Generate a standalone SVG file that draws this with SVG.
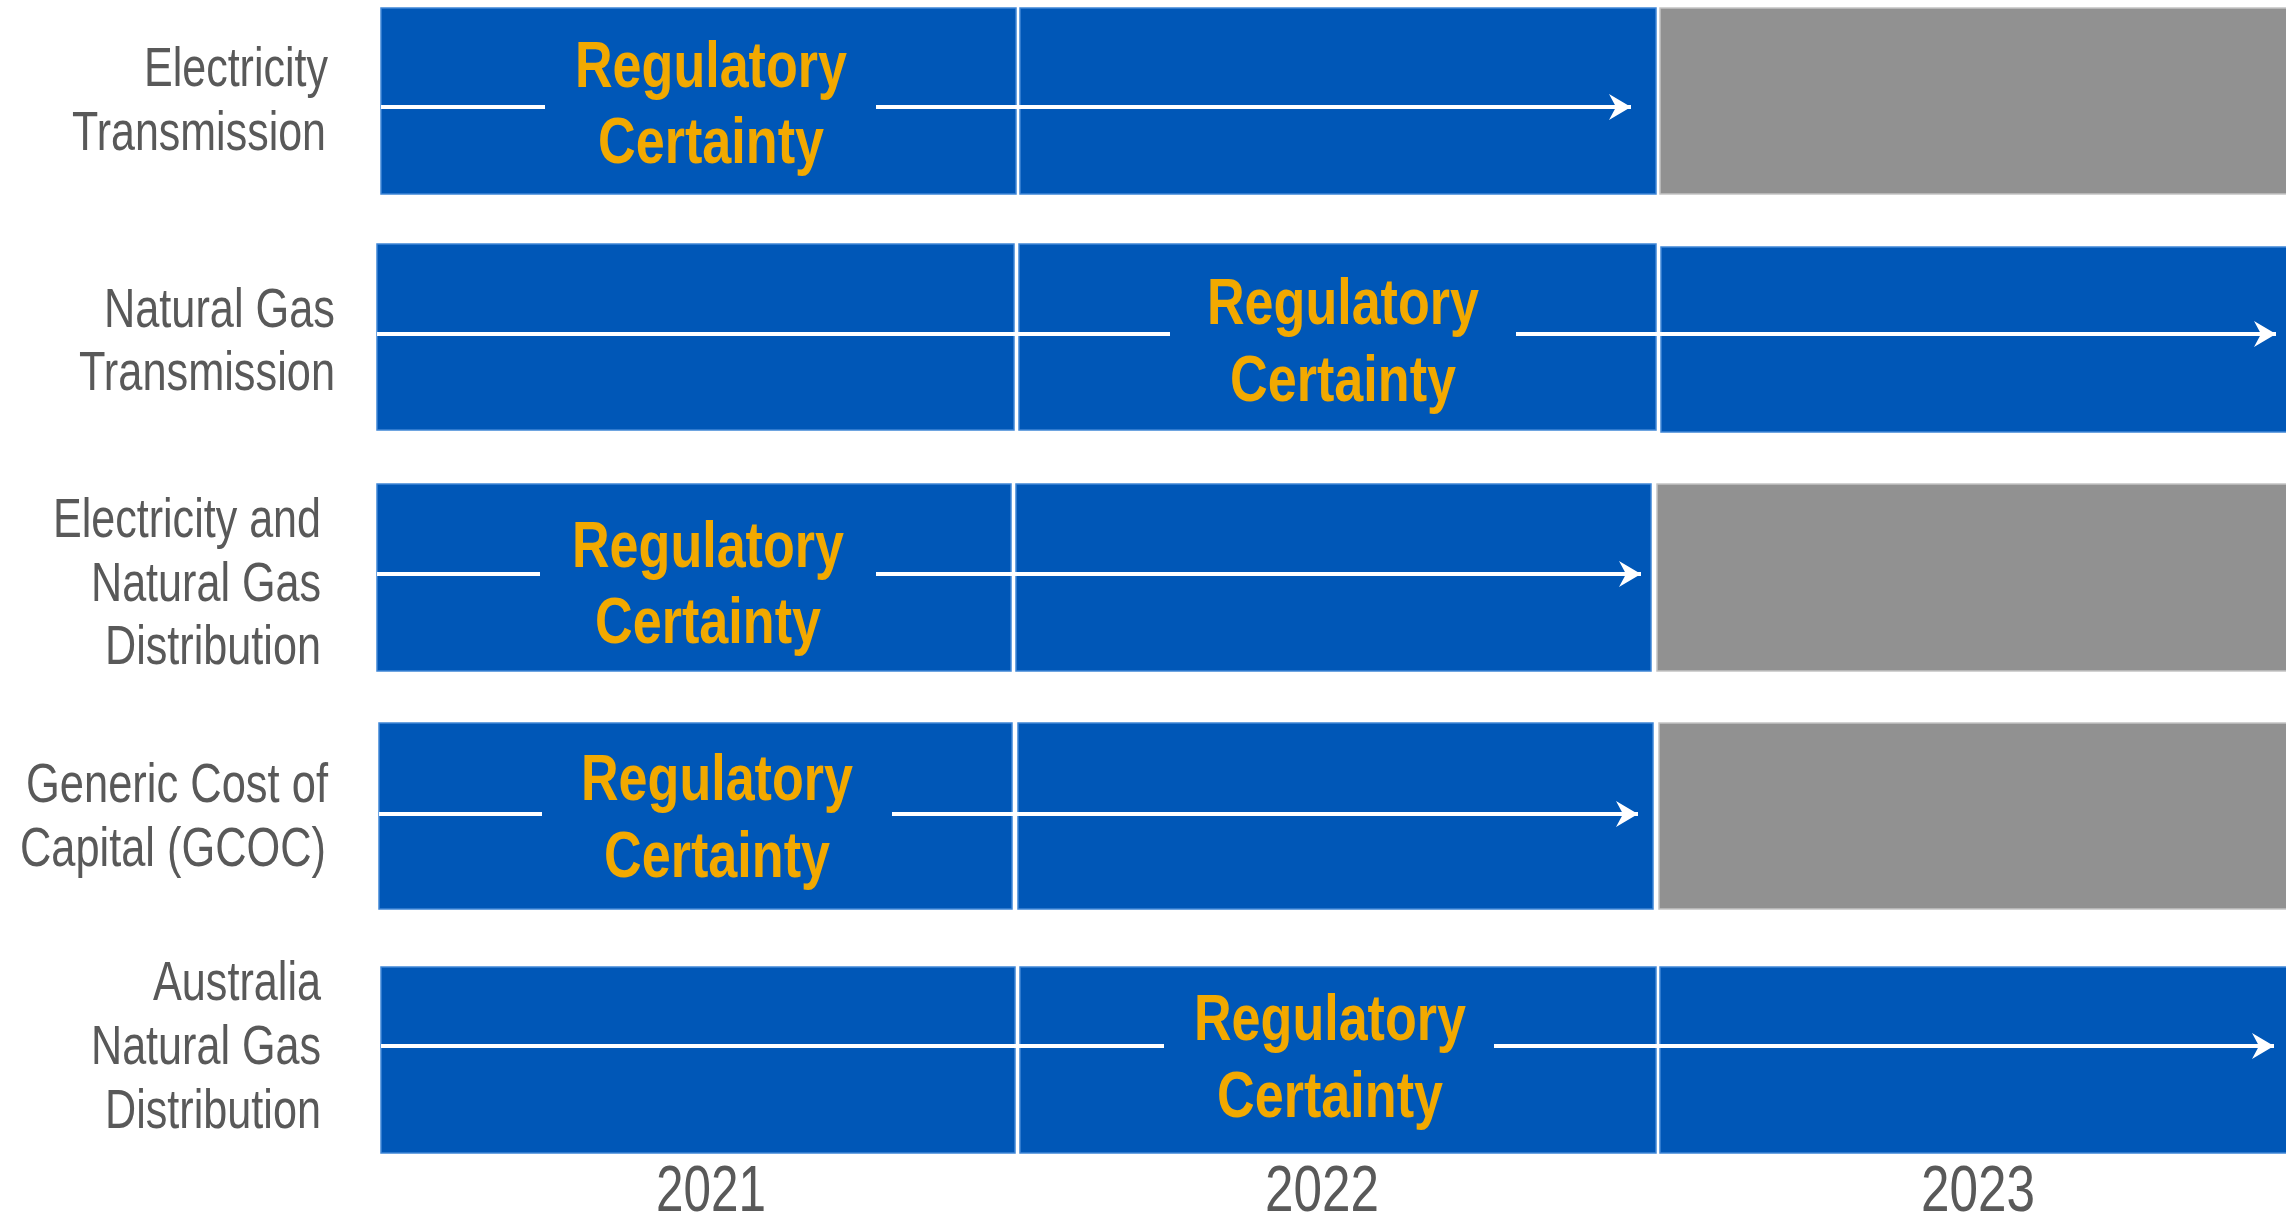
<svg xmlns="http://www.w3.org/2000/svg" width="2286" height="1226" viewBox="0 0 2286 1226">
<style>
.b{fill:#0057B7;stroke:#3f86d6;stroke-width:1.5}
.g{fill:#919191;stroke:#c4c4c4;stroke-width:1.5}
.lbl{font-family:"Liberation Sans Narrow","Liberation Sans",Arial,sans-serif;font-size:55px;fill:#595959;text-anchor:end}
.rc{font-family:"Liberation Sans Narrow","Liberation Sans",Arial,sans-serif;font-size:65px;font-weight:bold;fill:#F2A900;text-anchor:middle}
.yr{font-family:"Liberation Sans Narrow","Liberation Sans",Arial,sans-serif;font-size:64px;fill:#595959;text-anchor:middle}
.ln{stroke:#fff;stroke-width:4;fill:none}
</style>
<defs>
<marker id="ah" markerUnits="userSpaceOnUse" markerWidth="28" markerHeight="28" refX="26" refY="13" orient="auto" viewBox="0 0 28 26">
<path d="M26,13 L4,0 L11,13 L4,26 Z" fill="#fff"/>
</marker>
</defs>
<g id="row1">
<rect class="b" x="381" y="8" width="635" height="186"/>
<rect class="b" x="1020" y="8" width="636" height="186"/>
<rect class="g" x="1660" y="8" width="630" height="186"/>
<text class="lbl" x="328" y="86" textLength="184" lengthAdjust="spacingAndGlyphs">Electricity</text>
<text class="lbl" x="326" y="150" textLength="254" lengthAdjust="spacingAndGlyphs">Transmission</text>
<text class="rc" x="711" y="87" textLength="272" lengthAdjust="spacingAndGlyphs">Regulatory</text>
<text class="rc" x="711" y="163" textLength="226" lengthAdjust="spacingAndGlyphs">Certainty</text>
</g>
<g id="row2">
<rect class="b" x="377" y="244" width="637" height="186"/>
<rect class="b" x="1019" y="244" width="637" height="186"/>
<rect class="b" x="1661" y="247" width="630" height="185"/>
<text class="lbl" x="335" y="327" textLength="231" lengthAdjust="spacingAndGlyphs">Natural Gas</text>
<text class="lbl" x="335" y="390" textLength="256" lengthAdjust="spacingAndGlyphs">Transmission</text>
<text class="rc" x="1343" y="324" textLength="272" lengthAdjust="spacingAndGlyphs">Regulatory</text>
<text class="rc" x="1343" y="401" textLength="226" lengthAdjust="spacingAndGlyphs">Certainty</text>
</g>
<g id="row3">
<rect class="b" x="377" y="484" width="634" height="187"/>
<rect class="b" x="1016" y="484" width="635" height="187"/>
<rect class="g" x="1657" y="484" width="633" height="187"/>
<text class="lbl" x="321" y="537" textLength="268" lengthAdjust="spacingAndGlyphs">Electricity and</text>
<text class="lbl" x="321" y="601" textLength="230" lengthAdjust="spacingAndGlyphs">Natural Gas</text>
<text class="lbl" x="321" y="664" textLength="216" lengthAdjust="spacingAndGlyphs">Distribution</text>
<text class="rc" x="708" y="567" textLength="272" lengthAdjust="spacingAndGlyphs">Regulatory</text>
<text class="rc" x="708" y="643" textLength="226" lengthAdjust="spacingAndGlyphs">Certainty</text>
</g>
<g id="row4">
<rect class="b" x="379" y="723" width="633" height="186"/>
<rect class="b" x="1018" y="723" width="635" height="186"/>
<rect class="g" x="1659" y="723" width="631" height="186"/>
<text class="lbl" x="328" y="802" textLength="302" lengthAdjust="spacingAndGlyphs">Generic Cost of</text>
<text class="lbl" x="326" y="866" textLength="306" lengthAdjust="spacingAndGlyphs">Capital (GCOC)</text>
<text class="rc" x="717" y="800" textLength="272" lengthAdjust="spacingAndGlyphs">Regulatory</text>
<text class="rc" x="717" y="877" textLength="226" lengthAdjust="spacingAndGlyphs">Certainty</text>
</g>
<g id="row5">
<rect class="b" x="381" y="967" width="634" height="186"/>
<rect class="b" x="1020" y="967" width="636" height="186"/>
<rect class="b" x="1660" y="967" width="630" height="186"/>
<text class="lbl" x="321" y="1000" textLength="168" lengthAdjust="spacingAndGlyphs">Australia</text>
<text class="lbl" x="321" y="1064" textLength="230" lengthAdjust="spacingAndGlyphs">Natural Gas</text>
<text class="lbl" x="321" y="1128" textLength="216" lengthAdjust="spacingAndGlyphs">Distribution</text>
<text class="rc" x="1330" y="1040" textLength="272" lengthAdjust="spacingAndGlyphs">Regulatory</text>
<text class="rc" x="1330" y="1117" textLength="226" lengthAdjust="spacingAndGlyphs">Certainty</text>
</g>
<g id="years">
<text class="yr" x="711" y="1211" textLength="110" lengthAdjust="spacingAndGlyphs">2021</text>
<text class="yr" x="1322" y="1211" textLength="114" lengthAdjust="spacingAndGlyphs">2022</text>
<text class="yr" x="1978" y="1211" textLength="114" lengthAdjust="spacingAndGlyphs">2023</text>
</g>
<g id="connectors">
<line class="ln" x1="381" y1="107" x2="545" y2="107"/>
<line class="ln" x1="876" y1="107" x2="1631" y2="107" marker-end="url(#ah)"/>
<line class="ln" x1="377" y1="334" x2="1170" y2="334"/>
<line class="ln" x1="1516" y1="334" x2="2276" y2="334" marker-end="url(#ah)"/>
<line class="ln" x1="377" y1="574" x2="540" y2="574"/>
<line class="ln" x1="876" y1="574" x2="1641" y2="574" marker-end="url(#ah)"/>
<line class="ln" x1="379" y1="814" x2="542" y2="814"/>
<line class="ln" x1="892" y1="814" x2="1638" y2="814" marker-end="url(#ah)"/>
<line class="ln" x1="381" y1="1046" x2="1164" y2="1046"/>
<line class="ln" x1="1494" y1="1046" x2="2274" y2="1046" marker-end="url(#ah)"/>
</g>
</svg>
